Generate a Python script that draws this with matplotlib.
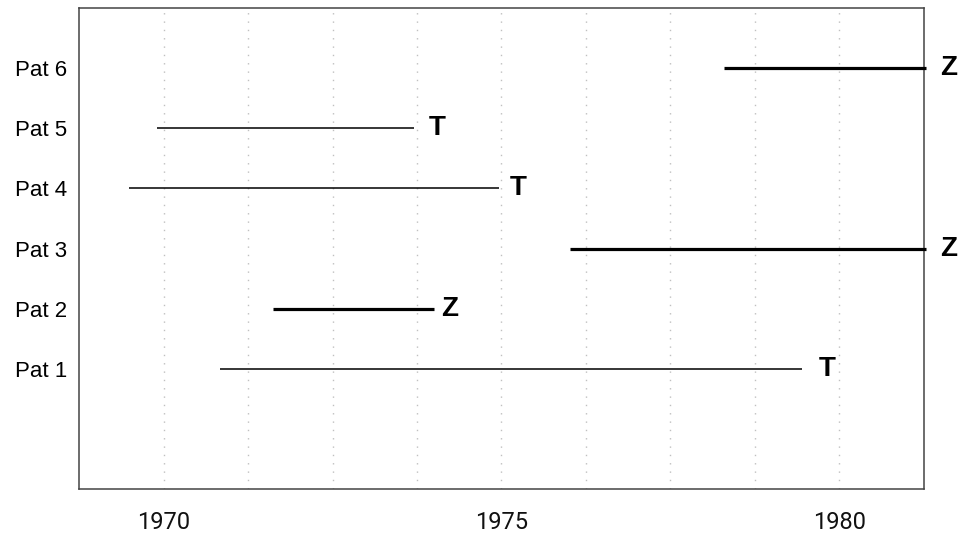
import matplotlib
matplotlib.use("Agg")
import matplotlib.pyplot as plt
import numpy as np

# Data
patients = ["Pat 1", "Pat 2", "Pat 3", "Pat 4", "Pat 5", "Pat 6"]
start_year = [1970.83, 1971.62, 1976.02, 1969.49, 1969.90, 1978.29]
end_year = [1979.45, 1974.00, 1981.28, 1974.96, 1973.70, 1981.28]
status = ["T", "Z", "Z", "T", "T", "Z"]
label_year = [1979.70, 1974.10, 1981.50, 1975.12, 1973.93, 1981.50]
year_ticks = [1970, 1975, 1980]

fig = plt.figure(figsize=(9.62, 5.35), dpi=100)
ax = fig.add_axes([0.0824, 0.086, 0.8778, 0.899])

ax.set_xlim(1968.75, 1981.25)
ax.set_ylim(-1, 7)

# dotted grid every 1.25 years
for gx in np.arange(1970, 1981.25, 1.25):
    ax.axvline(gx, color="#c0c0c0", lw=1.0, linestyle=(0, (1, 5)), zorder=0)

ypos = np.arange(1, len(patients) + 1)
for y, s, e, st, lx in zip(ypos, start_year, end_year, status, label_year):
    lw = 2.3 if st == "Z" else 1.1
    ax.plot([s, e], [y, y], color="black", lw=lw, solid_capstyle="butt",
            clip_on=False, zorder=3)
    ax.text(lx, y, st, ha="left", va="center", fontsize=20, fontweight="bold",
            family="Liberation Sans", clip_on=False)

ax.set_yticks(ypos)
ax.set_yticklabels(patients, fontsize=16, family="Liberation Sans")
ax.tick_params(axis="y", length=0, pad=9)

ax.set_xticks(year_ticks)
ax.set_xticklabels([str(t) for t in year_ticks], fontsize=17,
                   family="Roboto", color="#111111")
ax.tick_params(axis="x", length=0, pad=16)

for sp in ax.spines.values():
    sp.set_color("#444444")
    sp.set_linewidth(1.1)

fig.savefig("out.png", dpi=100)
